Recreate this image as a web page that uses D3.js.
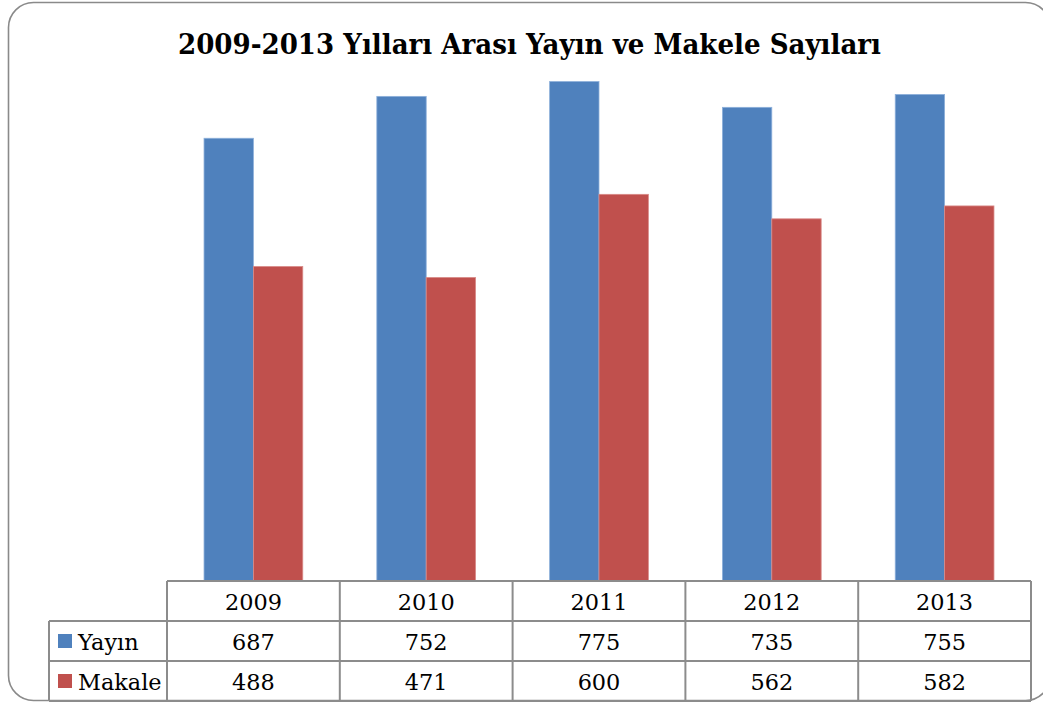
<!DOCTYPE html>
<html><head><meta charset="utf-8">
<script src="https://cdn.jsdelivr.net/npm/d3@7"></script>
<style>body{margin:0;background:#fff}svg{display:block}</style>
</head><body>
<script>
const title = "2009-2013 Yılları Arası Yayın ve Makele Sayıları";
const years = ["2009", "2010", "2011", "2012", "2013"];
const seriesNames = ["Yayın", "Makale"];
const yayin = [687, 752, 775, 735, 755];
const makale = [488, 471, 600, 562, 582];
const seriesColors = ["#4F81BD", "#C0504D"];
const seriesStroke = ["#8DB0DA", "#D98B88"];
const yDomain = [0, 900];

const W = 1043, H = 704;
const svg = d3.select("body").append("svg").attr("width", W).attr("height", H);
const font = "'DejaVu Serif', 'Liberation Serif', serif";

// frame
svg.append("rect").attr("x", 8.5).attr("y", 2.5).attr("width", 1042).attr("height", 698)
  .attr("rx", 25).attr("ry", 25).attr("fill", "#fff").attr("stroke", "#8a8a8a").attr("stroke-width", 1.6);

// title
svg.append("text").attr("x", 529.5).attr("y", 54).attr("text-anchor", "middle")
  .attr("font-family", font).attr("font-weight", "bold").attr("font-size", 27)
  .attr("textLength", 703).attr("lengthAdjust", "spacingAndGlyphs")
  .text(title);

const plotL = 167, plotR = 1031, plotTop = 1, plotBottom = 581;
const x0 = d3.scaleBand().domain(years).range([plotL, plotR]).padding(0);
const x1 = d3.scaleBand().domain(seriesNames).range([0, x0.bandwidth()]).paddingInner(0).paddingOuter(0.75);
const y = d3.scaleLinear().domain(yDomain).range([plotBottom, plotTop]);

const seriesVals = [yayin, makale];
const rows = years.map((yr, i) => ({year: yr, vals: seriesNames.map((s, k) => ({s, k, v: seriesVals[k][i]}))}));

const g = svg.append("g");
const grp = g.selectAll("g.cat").data(rows).enter().append("g")
  .attr("transform", d => `translate(${x0(d.year)},0)`);
grp.selectAll("rect").data(d => d.vals).enter().append("rect")
  .attr("x", d => x1(d.s)).attr("width", x1.bandwidth())
  .attr("y", d => y(d.v)).attr("height", d => y(0) - y(d.v))
  .attr("fill", d => seriesColors[d.k])
  .attr("stroke", d => seriesStroke[d.k]).attr("stroke-width", 0.8);

// data table
const legL = 49;
const rowY = [581, 621, 661, 701];
const lineCol = "#8c8c8c";
const tg = svg.append("g").attr("stroke", lineCol).attr("stroke-width", 2).attr("fill", "none");
tg.append("line").attr("x1", plotL).attr("x2", plotR).attr("y1", rowY[0]).attr("y2", rowY[0]);
[rowY[1], rowY[2], rowY[3]].forEach(yy => tg.append("line").attr("x1", legL).attr("x2", plotR).attr("y1", yy).attr("y2", yy));
tg.append("line").attr("x1", legL).attr("x2", legL).attr("y1", rowY[1]).attr("y2", rowY[3]);
years.forEach(yr => tg.append("line").attr("x1", x0(yr)).attr("x2", x0(yr)).attr("y1", rowY[0]).attr("y2", rowY[3]));
tg.append("line").attr("x1", plotR).attr("x2", plotR).attr("y1", rowY[0]).attr("y2", rowY[3]);

const txt = svg.append("g").attr("font-family", font).attr("font-size", 22.4).attr("fill", "#000");
years.forEach(yr => txt.append("text").attr("x", x0(yr) + x0.bandwidth() / 2).attr("y", 610)
  .attr("text-anchor", "middle").text(yr));
const baselines = [650, 690];
seriesNames.forEach((s, k) => {
  years.forEach((yr, i) => txt.append("text").attr("x", x0(yr) + x0.bandwidth() / 2).attr("y", baselines[k])
    .attr("text-anchor", "middle").text(seriesVals[k][i]));
  svg.append("rect").attr("x", 58).attr("y", (rowY[k + 1] + rowY[k + 2]) / 2 - 7)
    .attr("width", 14).attr("height", 14).attr("fill", seriesColors[k]);
  txt.append("text").attr("x", 78).attr("y", baselines[k]).text(s);
});
</script>
</body></html>
